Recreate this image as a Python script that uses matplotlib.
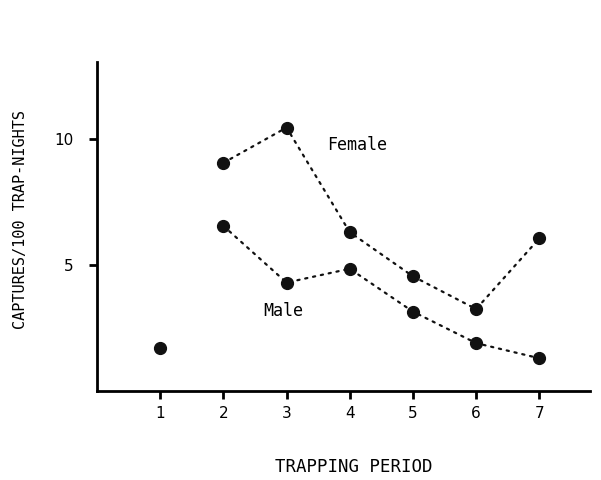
import matplotlib.pyplot as plt

# trapping periods and captures per 100 trap-nights
periods = [2, 3, 4, 5, 6, 7]
female = [9.05, 10.45, 6.3, 4.55, 3.25, 6.05]
male = [6.55, 4.3, 4.85, 3.15, 1.9, 1.3]
first_period = [1]
first_value = [1.7]

x_ticks = [1, 2, 3, 4, 5, 6, 7]
y_ticks = [5, 10]

mono = 'DejaVu Sans Mono'

fig = plt.figure(figsize=(6.01, 4.8), dpi=100)
ax = fig.add_axes([0.1614, 0.1854, 0.820, 0.6854])

dot_style = dict(color='#111111', linestyle=(0, (1, 2.6)), linewidth=1.6,
                 marker='o', markersize=8.5, dash_capstyle='round')
ax.plot(periods, female, **dot_style)
ax.plot(periods, male, **dot_style)
ax.plot(first_period, first_value, 'o', color='#111111', markersize=8.5)

ax.text(3.64, 9.76, 'Female', fontsize=12, family=mono, va='center')
ax.text(2.94, 3.17, 'Male', fontsize=12, family=mono, ha='center', va='center')

ax.set_xlim(0, 7.8)
ax.set_ylim(0, 13.05)
ax.set_xticks(x_ticks)
ax.set_yticks(y_ticks)
ax.tick_params(direction='out', length=6, width=2, labelsize=11)
ax.tick_params(axis='x', pad=5)
ax.tick_params(axis='y', pad=11)

for side in ['top', 'right']:
    ax.spines[side].set_visible(False)
for side in ['left', 'bottom']:
    ax.spines[side].set_linewidth(2)

ax.set_xlabel('TRAPPING PERIOD', fontsize=12.5, family=mono)
ax.xaxis.set_label_coords(0.52, -0.205)
ax.set_ylabel('CAPTURES/100 TRAP-NIGHTS', fontsize=11, family=mono)
ax.yaxis.set_label_coords(-0.14, 0.52)

fig.savefig('out.png', dpi=100)
